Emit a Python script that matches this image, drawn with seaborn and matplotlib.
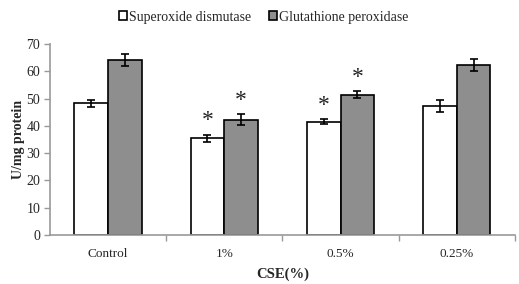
import matplotlib
matplotlib.use("Agg")
import matplotlib.pyplot as plt
import seaborn as sns
import pandas as pd
import numpy as np
from matplotlib.patches import Patch

categories = ["Control", "1%", "0.5%", "0.25%"]
series = ["Superoxide dismutase", "Glutathione peroxidase"]
sod = [48.2, 35.4, 41.6, 47.3]
gpx = [64.3, 42.3, 51.4, 62.3]
sod_err = [1.2, 1.4, 1.0, 2.1]
gpx_err = [2.2, 2.0, 1.2, 2.1]
sod_sig = [False, True, True, False]
gpx_sig = [False, True, True, False]
colors = ["#ffffff", "#8e8e8e"]

sns.set_theme(style="white")
plt.rcParams["font.family"] = ["Liberation Serif", "DejaVu Serif"]

df = pd.DataFrame({
    "CSE": categories * 2,
    "value": sod + gpx,
    "series": [series[0]] * 4 + [series[1]] * 4,
})

fig = plt.figure(figsize=(5.19, 2.84), dpi=100)
ax = fig.add_axes([0.0963, 0.1725, 0.8957, 0.6725])
sns.barplot(data=df, x="CSE", y="value", hue="series", order=categories,
            hue_order=series, palette=colors, width=0.58, gap=0,
            edgecolor="black", linewidth=1.2, errorbar=None, legend=False, ax=ax)

errs = sod_err + gpx_err
sigs = sod_sig + gpx_sig
vals = sod + gpx
for p, e, s, v in zip(ax.patches, errs, sigs, vals):
    cx = p.get_x() + p.get_width() / 2
    ax.errorbar(cx, v, yerr=e, color="black", capsize=3, elinewidth=1.2,
                capthick=1.2, fmt="none")
    if s:
        ax.text(cx, v + e + 5.0, "*", ha="center", va="center", fontsize=17,
                color="#222222")

ax.set_ylim(0, 70)
ax.set_xlim(-0.5, 3.5)
ax.set_yticks(range(0, 71, 10))
ax.tick_params(axis="y", labelsize=10, length=4, width=1, color="#999999",
               direction="out", left=True, pad=3)
ax.set_xticks(range(4))
ax.set_xticks([0.5, 1.5, 2.5, 3.5], minor=True)
ax.tick_params(axis="x", which="major", length=0, labelsize=9.5, pad=9)
ax.tick_params(axis="x", which="minor", length=4, width=1, color="#999999",
               direction="out", bottom=True)
for sp in ["top", "right"]:
    ax.spines[sp].set_visible(False)
for sp in ["left", "bottom"]:
    ax.spines[sp].set_color("#999999")
    ax.spines[sp].set_linewidth(1.2)

ax.set_ylabel("U/mg protein", fontsize=10, fontweight="bold", labelpad=1)
ax.set_xlabel("CSE(%)", fontsize=10.5, fontweight="bold", labelpad=6)

handles = [Patch(facecolor=c, edgecolor="black", linewidth=1.2) for c in colors]
fig.legend(handles, series, loc="center", bbox_to_anchor=(0.508, 0.94), ncol=2,
           frameon=False, fontsize=10, handlelength=0.55, handleheight=0.6,
           handletextpad=0.15, columnspacing=1.3)

fig.savefig("out.png", dpi=100)
